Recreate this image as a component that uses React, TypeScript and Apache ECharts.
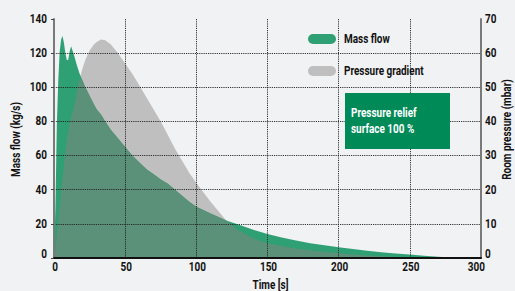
import React, { useEffect, useRef } from "react";
import * as echarts from "echarts";

const T = [0, 1, 2, 3, 4, 5, 6, 7, 8, 9, 10, 11, 12, 14, 16, 18, 20, 22, 25, 28, 30, 33, 36, 40, 45, 50, 55, 60, 65, 70, 75, 80, 85, 90, 95, 100, 110, 121, 130, 140, 150, 160, 170, 180, 190, 200, 210, 220, 230, 240, 250, 260, 270, 280, 290, 300];
const massFlow = [0, 30, 78, 104, 121, 128, 130, 126, 120, 116, 116, 121, 124, 119, 113, 108, 104, 100, 95, 90, 87, 84, 80, 75, 70, 65, 60, 56, 52, 49, 46, 43.5, 40, 36.5, 33, 30, 26, 22, 19.5, 16.5, 14, 12, 10.2, 8.7, 7.5, 6.3, 5.2, 4.2, 3.3, 2.6, 2.0, 1.3, 0.7, 0.2, 0, 0];
const pressure = [0, 2, 6.5, 10.5, 15, 19, 23.5, 27.5, 31.5, 34.5, 37, 39.5, 41, 44.5, 48.5, 52.5, 55.5, 58, 60.8, 62.5, 63.3, 64, 63.8, 62.5, 60, 57, 54, 50.5, 47, 43.5, 40, 36, 32, 28.5, 25, 22, 16.5, 11, 8, 5.7, 4.3, 3.5, 2.8, 2.25, 1.8, 1.4, 1.05, 0.75, 0.5, 0.3, 0.15, 0.05, 0, 0, 0, 0];
const leftTickLabels = [0, 20, 40, 60, 80, 100, 120, 140];
const rightTickLabels = [0, 10, 20, 30, 40, 50, 60, 70];
const xTickLabels = [0, 50, 100, 150, 200, 250, 300];
const seriesNames = ["Mass flow", "Pressure gradient"];
const boxLines = ["Pressure relief", "surface 100 %"];

const FONT = "Roboto, 'Liberation Sans', Arial, sans-serif";
const F12 = `bold 12px ${FONT}`;
const SX = 0.83;
const GREEN = "#2ea073";
const GRAY = "#bebfbe";
const OVERLAP = "#5b9179";
const BOX = "#008a57";
const BG = "#f1f2f4";
const GRID = "rgba(30,30,30,0.9)";
const INK = "#111111";

export default function App() {
  const ref = useRef<HTMLDivElement>(null);
  useEffect(() => {
    if (!ref.current) return;
    const chart = echarts.init(ref.current, null, { renderer: "svg" });
    const lMax = leftTickLabels[leftTickLabels.length - 1];
    const rMax = rightTickLabels[rightTickLabels.length - 1];
    const ratio = lMax / rMax;
    const overlap = T.map((t, i) => [t, Math.min(massFlow[i], pressure[i] * ratio)]);
    const splitColors = leftTickLabels.map((v) => (v === lMax ? "rgba(0,0,0,0)" : GRID));
    chart.setOption({
      animation: false,
      backgroundColor: BG,
      grid: { left: 54, right: 34, top: 19, bottom: 33, containLabel: false, outerBoundsMode: "none" },
      xAxis: {
        type: "value",
        min: xTickLabels[0],
        max: xTickLabels[xTickLabels.length - 1],
        interval: 50,
        z: 3,
        axisLine: { show: true, lineStyle: { color: "#111", width: 2 } },
        axisTick: { show: false },
        axisLabel: { show: false },
        splitLine: { show: true, lineStyle: { color: GRID, width: 1, type: [1.2, 1] } },
      },
      yAxis: [
        {
          type: "value",
          min: 0,
          max: lMax,
          interval: 20,
          z: 3,
          axisLine: { show: true, lineStyle: { color: "#7a7a7a", width: 2 } },
          axisTick: { show: true, length: 3, lineStyle: { color: "#444" } },
          axisLabel: { show: false },
          splitLine: { show: true, lineStyle: { color: splitColors, width: 1, type: [1.2, 1] } },
        },
        {
          type: "value",
          min: 0,
          max: rMax,
          interval: 10,
          position: "right",
          z: 3,
          axisLine: { show: true, lineStyle: { color: "#7a7a7a", width: 2 } },
          axisTick: { show: false },
          axisLabel: { show: false },
          splitLine: { show: false },
        },
      ],
      series: [
        {
          name: seriesNames[1],
          type: "line",
          yAxisIndex: 1,
          data: T.map((t, i) => [t, pressure[i]]),
          symbol: "none",
          color: GRAY,
          lineStyle: { width: 0 },
          areaStyle: { color: GRAY, opacity: 1 },
          z: 1,
        },
        {
          name: seriesNames[0],
          type: "line",
          yAxisIndex: 0,
          data: T.map((t, i) => [t, massFlow[i]]),
          symbol: "none",
          color: GREEN,
          lineStyle: { width: 0 },
          areaStyle: { color: GREEN, opacity: 1 },
          z: 1,
        },
        {
          name: "overlap",
          type: "line",
          yAxisIndex: 0,
          data: overlap,
          symbol: "none",
          color: OVERLAP,
          lineStyle: { width: 0 },
          areaStyle: { color: OVERLAP, opacity: 1 },
          z: 1,
          silent: true,
        },
      ],
    });

    const px = (v: number) => chart.convertToPixel({ xAxisIndex: 0 }, v) as number;
    const pyL = (v: number) => chart.convertToPixel({ yAxisIndex: 0 }, v) as number;
    const pyR = (v: number) => chart.convertToPixel({ yAxisIndex: 1 }, v) as number;
    const x0 = px(xTickLabels[0]);
    const x1 = px(xTickLabels[xTickLabels.length - 1]);
    const yBase = pyL(0);
    const yTop = pyL(lMax);

    const txt = (text: string, x: number, y: number, align: string, vAlign: string, extra: any = {}) => ({
      type: "text",
      x,
      y,
      scaleX: SX,
      z: 20,
      ...extra,
      style: { text, font: F12, fill: INK, align, verticalAlign: vAlign, ...(extra.style || {}) },
    });

    const g: any[] = [];
    leftTickLabels.forEach((v) => {
      g.push(txt(String(v), x0 - 7, pyL(v) + (v === 0 ? -4 : 0), "right", "middle"));
    });
    rightTickLabels.forEach((v) => {
      g.push(txt(String(v), x1 + 4, pyR(v) + (v === 0 ? -4 : 0), "left", "middle"));
    });
    xTickLabels.forEach((v, i) => {
      const last = i === xTickLabels.length - 1;
      g.push(txt(String(v), last ? px(v) + 4 : px(v) + 1, yBase + 9, last ? "right" : "center", "middle"));
    });
    g.push(txt("Time [s]", (x0 + x1) / 2 + 3, yBase + 27, "center", "middle"));
    g.push(txt("Mass flow (kg/s)", 16.5, (yBase + yTop) / 2 + 1, "center", "middle", { rotation: Math.PI / 2 }));
    g.push(txt("Room pressure (mbar)", 507.5, (yBase + yTop) / 2 - 9, "center", "middle", { rotation: Math.PI / 2 }));

    // legend
    const legendColors = [GREEN, GRAY];
    seriesNames.forEach((name, i) => {
      const top = 34 + i * 32;
      g.push({ type: "rect", x: 308, y: top, shape: { width: 28, height: 10, r: 5 }, style: { fill: legendColors[i] }, z: 20 });
      g.push(txt(name, 344, top + 5.5, "left", "middle"));
    });

    // annotation box
    g.push({ type: "rect", x: 345, y: 93, shape: { width: 105, height: 56 }, style: { fill: BOX }, z: 20 });
    boxLines.forEach((line, i) => {
      g.push(txt(line, 351, 113 + i * 16, "left", "middle", { style: { fill: "#ffffff" } }));
    });

    chart.setOption({ graphic: g });
    return () => chart.dispose();
  }, []);
  return <div ref={ref} style={{ position: "fixed", left: 0, top: 0, width: 515, height: 291, background: BG }} />;
}
